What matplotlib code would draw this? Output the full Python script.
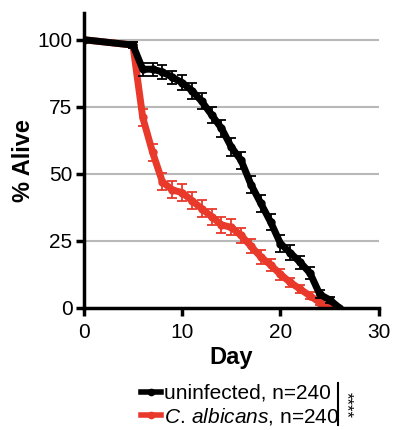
import matplotlib
matplotlib.use("Agg")
import matplotlib.pyplot as plt
from matplotlib.lines import Line2D

plt.rcParams['font.family'] = ['Liberation Sans', 'DejaVu Sans']
plt.rcParams['mathtext.fontset'] = 'custom'
plt.rcParams['mathtext.rm'] = 'Liberation Sans'
plt.rcParams['mathtext.it'] = 'Liberation Sans:italic'

# survival data (% alive per day)
uninf_days = [0, 5, 6, 7, 8, 9, 10, 11, 12, 13, 14, 15, 16, 17, 18, 19, 20, 21, 22, 23, 24, 25, 26]
uninf_alive = [100, 98, 89, 89, 88, 86, 84, 81, 77, 72, 67, 60, 55, 46, 39, 32, 24, 20.5, 17, 13, 5, 3, 0]
uninf_err = [0, 1, 2.5, 2.5, 2.5, 2.5, 2.8, 3, 3, 3, 3.2, 3.2, 3.2, 3.2, 3.2, 3, 3, 2.8, 2.5, 2.3, 1.5, 1, 0]

calb_days = [0, 5, 6, 7, 8, 9, 10, 11, 12, 13, 14, 15, 16, 17, 18, 19, 20, 21, 22, 23, 24, 25]
calb_alive = [100, 98, 71, 58, 47, 44, 43, 40, 37, 34, 31, 30, 27, 23, 19, 16, 12.5, 9.5, 7, 4.5, 2, 0]
calb_err = [0, 1, 3, 3.2, 3.2, 3.2, 3.2, 3.2, 3.1, 3, 3, 3, 2.8, 2.7, 2.5, 2.3, 2, 1.8, 1.6, 1.3, 1, 0]

x_ticks = [0, 10, 20, 30]
y_ticks = [0, 25, 50, 75, 100]

RED = '#E8392B'

fig = plt.figure(figsize=(3.93, 4.30), dpi=100)
ax = fig.add_axes([0.213, 0.284, 0.751, 0.686])

for y in [25, 50, 75, 100]:
    ax.axhline(y, color='#b8b8b8', lw=1.5, zorder=0)

ax.errorbar(calb_days, calb_alive, yerr=calb_err, color=RED, ecolor=RED,
            lw=5, marker='o', ms=5, elinewidth=1.3, capsize=3.8, capthick=1.3, zorder=3)
ax.errorbar(uninf_days, uninf_alive, yerr=uninf_err, color='black', ecolor='black',
            lw=5, marker='o', ms=5, elinewidth=1.3, capsize=3.8, capthick=1.3, zorder=4)

ax.set_xlim(0, 30)
ax.set_ylim(0, 110)
ax.set_xticks(x_ticks)
ax.set_yticks(y_ticks)
for side in ['top', 'right']:
    ax.spines[side].set_visible(False)
for side in ['left', 'bottom']:
    ax.spines[side].set_linewidth(2.5)
    ax.spines[side].set_zorder(5)
ax.tick_params(width=2.5, length=6, labelsize=15, direction='out', pad=2)
ax.tick_params(axis='x', pad=5)
ax.set_xlabel('Day', fontsize=17, fontweight='bold', labelpad=3)
ax.set_ylabel('% Alive', fontsize=17, fontweight='bold', labelpad=2)

handles = [
    Line2D([], [], color='black', lw=4, marker='o', ms=4.5),
    Line2D([], [], color=RED, lw=4, marker='o', ms=4.5),
]
labels = ['uninfected, n=240', r'$\it{C.\,albicans}$, n=240']
fig.legend(handles, labels, loc='center', bbox_to_anchor=(0.61, 0.057),
           frameon=False, fontsize=15, handlelength=1.0, handletextpad=0.1,
           labelspacing=0.15, borderpad=0)

fig.add_artist(Line2D([0.86, 0.86], [0.012, 0.11], color='black', lw=1.5))
fig.text(0.88, 0.058, '****', rotation=270, fontsize=12, ha='center', va='center')

fig.savefig('out.png', dpi=100)
